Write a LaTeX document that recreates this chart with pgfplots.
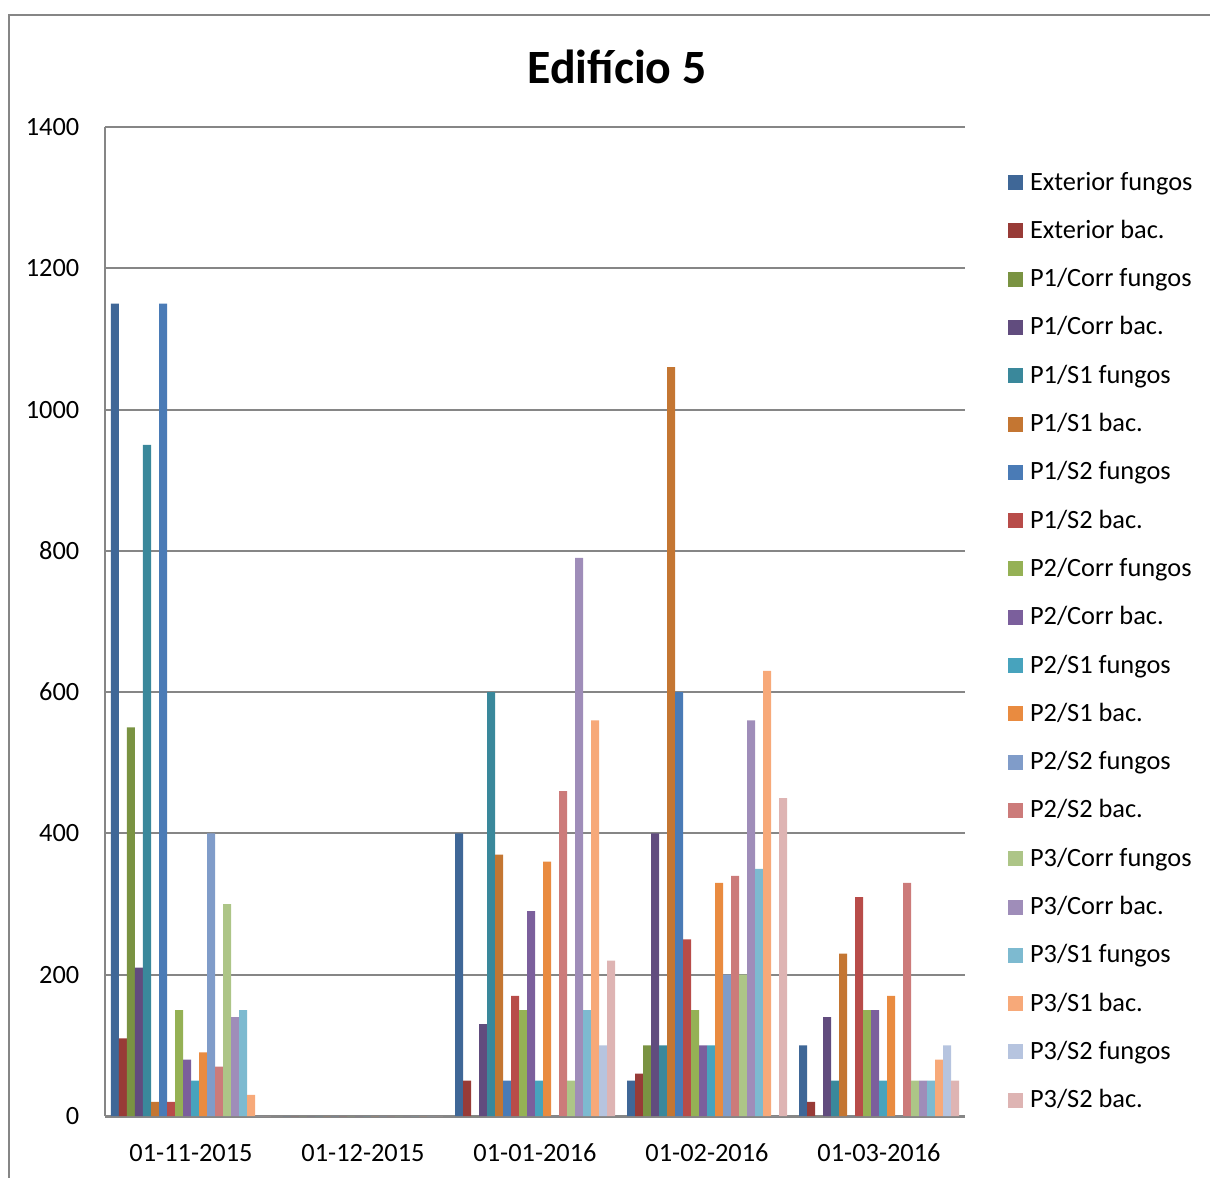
\documentclass[border=0pt]{standalone}
\usepackage{pgfplots}
\usepackage{pgfplotstable}
\pgfplotsset{compat=1.18}
\usepackage{fontspec}
\setmainfont{Carlito}
\definecolor{c1}{HTML}{3F6797}
\definecolor{c2}{HTML}{983B37}
\definecolor{c3}{HTML}{7A9342}
\definecolor{c4}{HTML}{614C7E}
\definecolor{c5}{HTML}{3A889B}
\definecolor{c6}{HTML}{C47632}
\definecolor{c7}{HTML}{4A7BB6}
\definecolor{c8}{HTML}{B84C49}
\definecolor{c9}{HTML}{95B155}
\definecolor{c10}{HTML}{7B5F9C}
\definecolor{c11}{HTML}{47A3BD}
\definecolor{c12}{HTML}{E98B40}
\definecolor{c13}{HTML}{809CC9}
\definecolor{c14}{HTML}{CC7B7A}
\definecolor{c15}{HTML}{ADC587}
\definecolor{c16}{HTML}{9F8DB9}
\definecolor{c17}{HTML}{7DBAD0}
\definecolor{c18}{HTML}{F7A979}
\definecolor{c19}{HTML}{B6C4DF}
\definecolor{c20}{HTML}{DEB4B3}
\definecolor{gridc}{HTML}{868686}
\pgfplotstableread{
x s1 s2 s3 s4 s5 s6 s7 s8 s9 s10 s11 s12 s13 s14 s15 s16 s17 s18 s19 s20
0 1150 110 550 210 950 20 1150 20 150 80 50 90 400 70 300 140 150 30 0 0
1 0 0 0 0 0 0 0 0 0 0 0 0 0 0 0 0 0 0 0 0
2 400 50 0 130 600 370 50 170 150 290 50 360 0 460 50 790 150 560 100 220
3 50 60 100 400 100 1060 600 250 150 100 100 330 200 340 200 560 350 630 0 450
4 100 20 0 140 50 230 0 310 150 150 50 170 0 330 50 50 50 80 100 50
}\datatable
\begin{document}
\begin{tikzpicture}
\path[use as bounding box] (-1.05,-0.61) rectangle (11.05,11.16);
\draw[gridc, line width=0.02cm] (-0.96,-0.7) -- (-0.96,11.01) -- (11.2,11.01);
\begin{axis}[
  scale only axis,
  width=8.6cm, height=9.89cm,
  ybar=0pt, bar width=0.08cm,
  xmin=-0.5, xmax=4.5,
  ymin=0, ymax=1400,
  ytick={0,200,...,1400},
  xtick={0,1,2,3,4},
  xticklabels={01-11-2015,01-12-2015,01-01-2016,01-02-2016,01-03-2016},
  scaled y ticks=false,
  /pgf/number format/assume math mode=true,
  /pgf/number format/1000 sep={},
  axis lines*=left,
  x axis line style={gridc, line width=0.03cm},
  y axis line style={gridc, line width=0.02cm},
  major tick length=0pt,
  ymajorgrids,
  grid style={gridc, line width=0.02cm},
  ticklabel style={font=\fontsize{7.5}{9}\selectfont},
  xticklabel style={anchor=base, inner sep=0pt, yshift=-0.45cm},
  yticklabel style={anchor=east, inner sep=0pt, xshift=-0.25cm},
  every axis plot/.append style={draw=none},
  legend image code/.code={\fill[#1,draw=none] (0cm,0cm) rectangle (0.15cm,0.15cm);},
  legend style={at={(1.05,0.9565)}, anchor=north west, draw=none, fill=none,
    inner sep=0pt, outer sep=0pt, row sep=0.223cm, column sep=0.07cm,
    font=\fontsize{7.5}{9}\selectfont,
    nodes={inner sep=0pt, text height=0.2cm, text depth=0.06cm},
    cells={anchor=base west}},
]
\addplot[fill=c1] table[x=x,y=s1]{\datatable};
\addplot[fill=c2] table[x=x,y=s2]{\datatable};
\addplot[fill=c3] table[x=x,y=s3]{\datatable};
\addplot[fill=c4] table[x=x,y=s4]{\datatable};
\addplot[fill=c5] table[x=x,y=s5]{\datatable};
\addplot[fill=c6] table[x=x,y=s6]{\datatable};
\addplot[fill=c7] table[x=x,y=s7]{\datatable};
\addplot[fill=c8] table[x=x,y=s8]{\datatable};
\addplot[fill=c9] table[x=x,y=s9]{\datatable};
\addplot[fill=c10] table[x=x,y=s10]{\datatable};
\addplot[fill=c11] table[x=x,y=s11]{\datatable};
\addplot[fill=c12] table[x=x,y=s12]{\datatable};
\addplot[fill=c13] table[x=x,y=s13]{\datatable};
\addplot[fill=c14] table[x=x,y=s14]{\datatable};
\addplot[fill=c15] table[x=x,y=s15]{\datatable};
\addplot[fill=c16] table[x=x,y=s16]{\datatable};
\addplot[fill=c17] table[x=x,y=s17]{\datatable};
\addplot[fill=c18] table[x=x,y=s18]{\datatable};
\addplot[fill=c19] table[x=x,y=s19]{\datatable};
\addplot[fill=c20] table[x=x,y=s20]{\datatable};
\legend{Exterior fungos, Exterior bac., P1/Corr fungos, P1/Corr bac., P1/S1 fungos, P1/S1 bac., P1/S2 fungos, P1/S2 bac., P2/Corr fungos, P2/Corr bac., P2/S1 fungos, P2/S1 bac., P2/S2 fungos, P2/S2 bac., P3/Corr fungos, P3/Corr bac., P3/S1 fungos, P3/S1 bac., P3/S2 fungos, P3/S2 bac.}
\end{axis}
\node[anchor=base, font=\fontsize{13.6}{15}\selectfont\bfseries] at (5.12,10.32) {Edifício 5};
\end{tikzpicture}
\end{document}
